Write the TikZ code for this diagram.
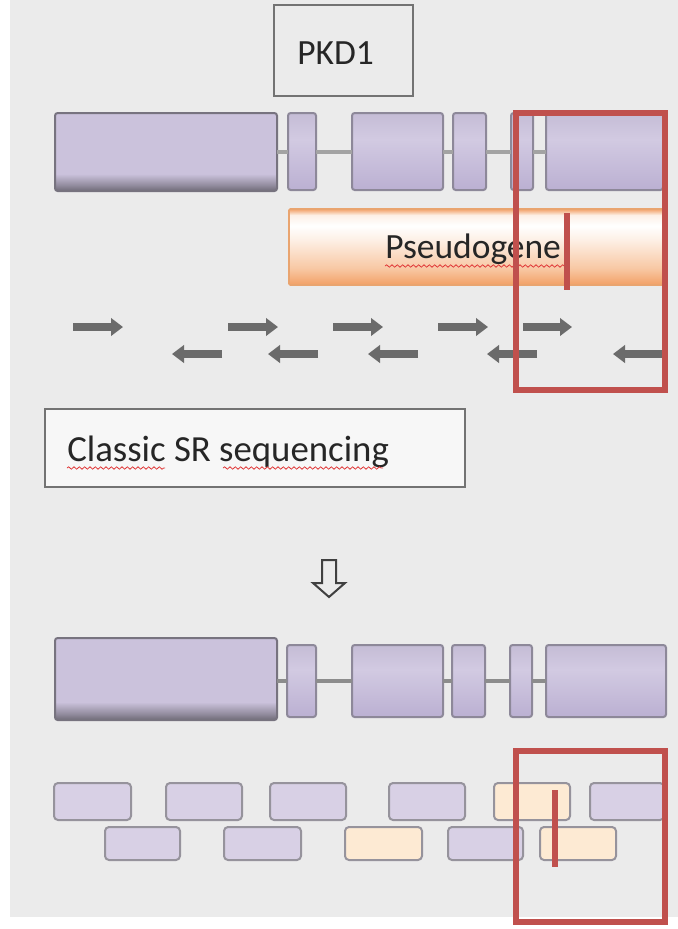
\documentclass[tikz,border=0pt]{standalone}
\usepackage{fontspec}
\setmainfont{Carlito}
\usetikzlibrary{fit,arrows.meta,decorations.pathmorphing}
\definecolor{bg}{HTML}{EBEBEB}
\definecolor{lav}{HTML}{CBC2DC}
\definecolor{lavlight}{HTML}{D2CAE2}
\definecolor{lavdark}{HTML}{BBB0D2}
\definecolor{exbord}{HTML}{8D8899}
\definecolor{exbordk}{HTML}{77737F}
\definecolor{shadowdk}{HTML}{6F6B78}
\definecolor{redbox}{HTML}{C0504D}
\definecolor{readlav}{HTML}{D8D0E5}
\definecolor{readorg}{HTML}{FDEAD3}
\definecolor{readbord}{HTML}{96939C}
\definecolor{arrowgrey}{HTML}{6B6B6B}
\definecolor{introncol}{HTML}{A3A3A3}
\definecolor{orgdark}{HTML}{F2A066}
\definecolor{orgmid}{HTML}{F8C8A4}
\definecolor{orglight}{HTML}{FDF0E6}
\definecolor{orgbord}{HTML}{E9A46F}
\definecolor{txt}{HTML}{262626}
\definecolor{squigred}{HTML}{E03A3A}
\pgfdeclareverticalshading{exonbig}{100bp}{color(0bp)=(shadowdk); color(25bp)=(shadowdk); color(29bp)=(shadowdk!60!lav); color(36bp)=(lav); color(75bp)=(lav); color(100bp)=(lav)}
\pgfdeclareverticalshading{exonsmall}{100bp}{color(0bp)=(lavdark); color(25bp)=(lavdark); color(58bp)=(lavlight); color(75bp)=(lav!90!exbord); color(100bp)=(lav!90!exbord)}
\pgfdeclareverticalshading{pseudo}{100bp}{color(0bp)=(orgdark); color(25bp)=(orgdark); color(36bp)=(orgmid); color(55bp)=(orglight); color(64bp)=(white); color(71bp)=(orglight); color(75bp)=(orgdark); color(100bp)=(orgdark)}
\tikzset{
  box/.style={inner sep=0pt, outer sep=0pt},
  exonA/.style={box, draw=exbordk, line width=1.5pt, rounded corners=2pt, shading=exonbig},
  exonB/.style={box, draw=exbord, line width=1.5pt, rounded corners=2pt, shading=exonsmall},
  intron/.style={draw=introncol, line width=3pt},
  pseudobar/.style={box, draw=orgbord, line width=1.2pt, rounded corners=1pt, shading=pseudo},
  readL/.style={box, draw=readbord, fill=readlav, line width=1.5pt, rounded corners=3pt},
  readO/.style={box, draw=readbord, fill=readorg, line width=1.5pt, rounded corners=3pt},
  arr/.style={draw=arrowgrey, line width=5.5pt, -{Triangle[width=13pt,length=9pt]}},
  labelbox/.style={box, draw=black!55, line width=1.5pt},
  lbl/.style={inner sep=0pt, anchor=base west, text=txt, font=\fontsize{26.6}{30}\selectfont},
  squig/.style={draw=squigred, line width=0.6pt, decorate, decoration={snake, segment length=4pt, amplitude=0.9pt}},
  redframe/.style={draw=redbox, line width=4pt},
  redmark/.style={draw=redbox, line width=4pt},
  hollowarrow/.style={draw=black!75, line width=1.5pt, line join=miter}
}
\begin{document}
\begin{tikzpicture}[x=0.75pt,y=-0.75pt]
\useasboundingbox (0,0) rectangle (678,929);
\fill[bg] (10,0) rectangle (678,917);

% PKD1 label
\node[labelbox, fit={(274,5) (413,96)}] (pkdbox) {};
\node[lbl] (pkdtxt) at (297,64) {PKD1};

% top gene
\node[exonA, fit={(55,113) (277,191)}] (a1) {};
\node[exonB, fit={(288,113) (316,190)}] (a2) {};
\node[exonB, fit={(352,113) (443,190)}] (a3) {};
\node[exonB, fit={(453,113) (486,190)}] (a4) {};
\node[exonB, fit={(511,113) (533,190)}] (a5) {};
\node[exonB, fit={(546,113) (663,190)}] (a6) {};
\draw[intron] (a2.west -| a1.east) -- (a2.west);
\draw[intron] (a2.east) -- (a3.west);
\draw[intron] (a3.east) -- (a4.west);
\draw[intron] (a4.east) -- (a5.west);
\draw[intron] (a5.east) -- (a6.west);

% pseudogene
\node[pseudobar, fit={(289,209) (665,285)}] (pseudo) {};
\node[lbl] (pseudotxt) at (385,258) {Pseudogene};
\draw[squig] (385,266) -- (565,266);

% short reads (arrows)
\draw[arr] (73,327) -- (123,327);
\draw[arr] (228,327) -- (278,327);
\draw[arr] (333,327) -- (383,327);
\draw[arr] (438,327) -- (488,327);
\draw[arr] (523,327) -- (572,327);
\draw[arr] (222,354) -- (172,354);
\draw[arr] (318,354) -- (268,354);
\draw[arr] (418,354) -- (368,354);
\draw[arr] (537,354) -- (487,354);
\draw[arr] (662,354) -- (613,354);

% Classic SR sequencing
\node[labelbox, fill=white!60!bg, fit={(45,409) (465,487)}] (srbox) {};
\node[lbl, font=\fontsize{27.6}{31}\selectfont] (srtxt) at (67,461) {Classic SR sequencing};
\draw[squig] (67,468) -- (165,468);
\draw[squig] (223,468) -- (383,468);

% down arrow
\draw[hollowarrow] (322,560) -- (336,560) -- (336,583) -- (345,583) -- (329,597) -- (313,583) -- (322,583) -- cycle;

% bottom gene
\node[exonA, fit={(55,638) (277,720)}] (b1) {};
\node[exonB, fit={(287,645) (316,717)}] (b2) {};
\node[exonB, fit={(352,645) (443,717)}] (b3) {};
\node[exonB, fit={(452,645) (485,717)}] (b4) {};
\node[exonB, fit={(510,645) (532,717)}] (b5) {};
\node[exonB, fit={(546,645) (666,717)}] (b6) {};
\draw[intron, draw=black!45] (b2.west -| b1.east) -- (b2.west);
\draw[intron, draw=black!45] (b2.east) -- (b3.west);
\draw[intron, draw=black!45] (b3.east) -- (b4.west);
\draw[intron, draw=black!45] (b4.east) -- (b5.west);
\draw[intron, draw=black!45] (b5.east) -- (b6.west);

% mapped reads
\node[readL, fit={(54,783) (131,820)}] (r1) {};
\node[readL, fit={(166,783) (242,820)}] (r2) {};
\node[readL, fit={(270,783) (346,820)}] (r3) {};
\node[readL, fit={(389,783) (465,820)}] (r4) {};
\node[readO, fit={(494,783) (570,820)}] (r5) {};
\node[readL, fit={(590,783) (664,820)}] (r6) {};
\node[readL, fit={(105,827) (180,860)}] (s1) {};
\node[readL, fit={(224,827) (301,860)}] (s2) {};
\node[readO, fit={(345,827) (422,860)}] (s3) {};
\node[readL, fit={(448,827) (523,860)}] (s4) {};
\node[readO, fit={(540,827) (616,860)}] (s5) {};

% red highlights
\draw[redframe] (516,113) rectangle (665,390);
\draw[redmark] (567,213) -- (567,290);
\draw[redframe] (516,751) rectangle (665,922);
\draw[redmark] (555,790) -- (555,867);
\end{tikzpicture}
\end{document}
